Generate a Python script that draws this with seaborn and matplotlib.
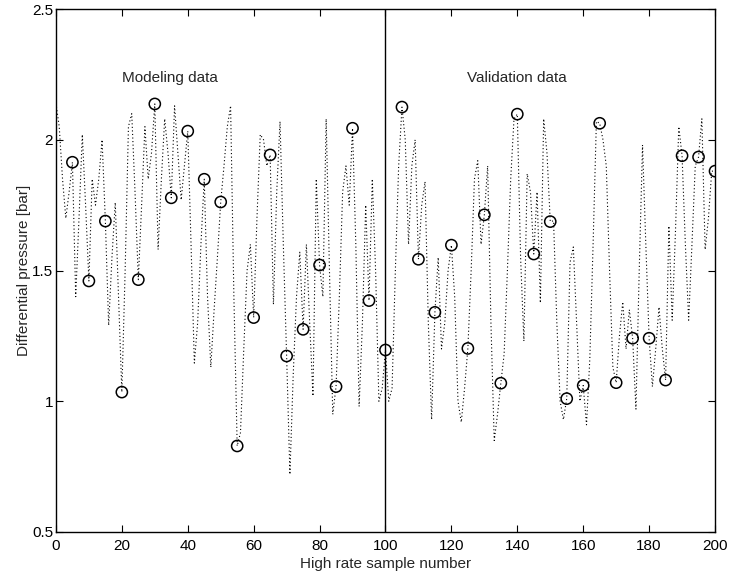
import numpy as np
import pandas as pd
import seaborn as sns
import matplotlib
matplotlib.use("Agg")
import matplotlib.pyplot as plt

#============================= DATA ==============================

# high rate signal, samples 0..200
pressure_left = [
    2.14, 2.05, 1.85, 1.70, 1.80, 1.914, 1.40, 1.70, 2.02, 1.75,
    1.460, 1.85, 1.75, 1.85, 2.00, 1.689, 1.29, 1.55, 1.76, 1.40,
    1.035, 1.50, 2.05, 2.10, 1.80, 1.465, 1.75, 2.05, 1.85, 1.95,
    2.137, 1.58, 1.85, 2.08, 1.95, 1.778, 2.13, 1.95, 1.77, 1.90,
    2.033, 1.60, 1.146, 1.30, 1.60, 1.849, 1.40, 1.13, 1.35, 1.55,
    1.762, 1.90, 2.05, 2.13, 1.40, 0.829, 0.88, 1.20, 1.50, 1.60,
    1.320, 1.70, 2.02, 2.00, 1.90, 1.942, 1.37, 1.80, 2.07, 1.60,
    1.173, 0.72, 1.10, 1.40, 1.57, 1.275, 1.60, 1.30, 1.02, 1.85,
    1.521, 1.40, 2.08, 1.50, 0.95, 1.056, 1.40, 1.80, 1.90, 1.75,
    2.044, 1.60, 0.98, 1.30, 1.75, 1.385, 1.85, 1.50, 1.00, 1.05,
]
pressure_right = [
    1.196, 1.00, 1.05, 1.50, 1.90, 2.125, 2.00, 1.60, 1.90, 2.00,
    1.543, 1.75, 1.84, 1.30, 0.93, 1.340, 1.55, 1.20, 1.30, 1.50,
    1.597, 1.40, 1.00, 0.92, 1.05, 1.202, 1.50, 1.85, 1.92, 1.60,
    1.713, 1.90, 1.30, 0.85, 0.95, 1.069, 1.18, 1.50, 1.85, 2.08,
    2.098, 1.55, 1.23, 1.87, 1.80, 1.563, 1.80, 1.376, 2.08, 1.95,
    1.687, 1.69, 1.30, 1.00, 0.93, 1.010, 1.53, 1.59, 1.30, 1.00,
    1.060, 0.91, 1.16, 1.60, 2.07, 2.063, 2.00, 1.90, 1.50, 1.13,
    1.071, 1.25, 1.38, 1.20, 1.35, 1.241, 0.97, 1.50, 1.98, 1.60,
    1.241, 1.056, 1.20, 1.36, 1.20, 1.081, 1.67, 1.31, 1.65, 2.05,
    1.939, 1.60, 1.31, 1.60, 1.90, 1.934, 2.08, 1.58, 1.70, 1.88,
    1.880,
]
pressure = pressure_left + pressure_right
sample = list(range(len(pressure)))

step = 5   # low rate sampling
x_ticks = [0, 20, 40, 60, 80, 100, 120, 140, 160, 180, 200]
y_ticks = [0.5, 1, 1.5, 2, 2.5]
y_tick_labels = ["0.5", "1", "1.5", "2", "2.5"]

df = pd.DataFrame({"sample": sample, "pressure": pressure})
low = df[(df["sample"] % step == 0) & (df["sample"] > 0)]

#============================= PLOT ==============================

sns.set_style("ticks")
plt.rcParams["font.family"] = ["Liberation Sans", "DejaVu Sans"]

fig = plt.figure(figsize=(7.36, 5.78), dpi=100)
ax = fig.add_axes([0.076, 0.0796, 0.8955, 0.9048])

sns.lineplot(data=df, x="sample", y="pressure", ax=ax, color="black",
             linestyle=(0, (1, 2.2)), linewidth=0.8, estimator=None)
sns.scatterplot(data=low, x="sample", y="pressure", ax=ax, marker="o",
                s=65, facecolor="none", edgecolor="black", linewidth=1.1)

ax.axvline(100, color="black", linewidth=1.0)

ax.text(34.5, 2.235, "Modeling data", ha="center", va="center", fontsize=11)
ax.text(140, 2.235, "Validation data", ha="center", va="center", fontsize=11)

ax.set_xlim(0, 200)
ax.set_ylim(0.5, 2.5)
ax.set_xticks(x_ticks)
ax.set_yticks(y_ticks)
ax.set_yticklabels(y_tick_labels)
ax.tick_params(direction="in", top=True, right=True, length=5, width=0.8,
               labelsize=11, colors="black", pad=2)
ax.tick_params(axis="x", pad=5)
for s in ax.spines.values():
    s.set_color("black")
    s.set_linewidth(1.0)

ax.set_xlabel("High rate sample number", fontsize=11, labelpad=3)
ax.set_ylabel("Differential pressure [bar]", fontsize=11, labelpad=1)

fig.savefig("out.png", dpi=100)
